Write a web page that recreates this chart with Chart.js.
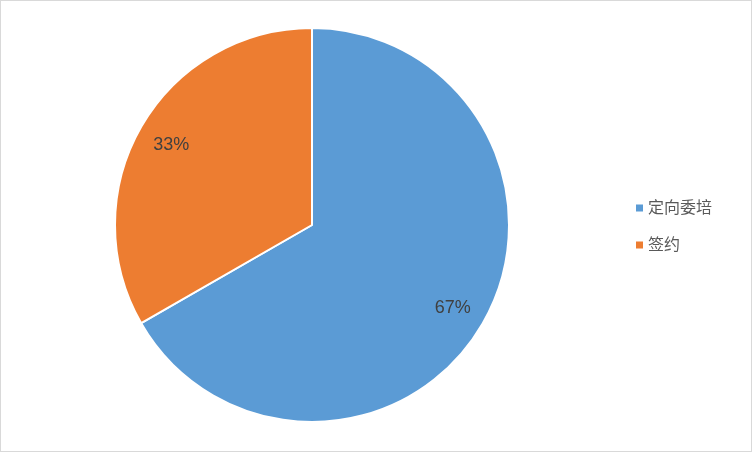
<!DOCTYPE html>
<html>
<head>
<meta charset="utf-8">
<script src="https://cdn.jsdelivr.net/npm/chart.js@4"></script>
<style>
  html, body { margin: 0; padding: 0; background: #fff; }
  canvas { display: block; }
</style>
</head>
<body>
<canvas id="pieChart" width="752" height="452"></canvas>
<script>
const categories = ["定向委培", "签约"];
const shares = [66.7, 33.3];
const sliceColors = ["#5B9BD5", "#ED7D31"];

const FONT = '"Liberation Sans", "Noto Sans CJK SC", sans-serif';

// percent labels inside the slices + frame + legend on the right
const pieExtras = {
  id: "pieExtras",
  afterDatasetsDraw(chart) {
    const ctx = chart.ctx;
    const meta = chart.getDatasetMeta(0);
    const total = shares.reduce((a, b) => a + b, 0);

    ctx.save();
    ctx.font = "18px " + FONT;
    ctx.fillStyle = "#404040";
    ctx.textAlign = "center";
    ctx.textBaseline = "middle";
    meta.data.forEach(function (arc, i) {
      const mid = (arc.startAngle + arc.endAngle) / 2;
      const r = arc.outerRadius * 0.825;
      const x = arc.x + Math.cos(mid) * r;
      const y = arc.y + Math.sin(mid) * r;
      ctx.fillText(Math.round(shares[i] / total * 100) + "%", x, y + 1.5);
    });

    // legend
    const area = chart.chartArea;
    const lx = area.right + 125;
    const ly = (area.top + area.bottom) / 2 - 17;
    ctx.font = "16px " + FONT;
    ctx.textAlign = "left";
    categories.forEach(function (name, i) {
      const y = ly + i * 37;
      ctx.fillStyle = sliceColors[i];
      ctx.fillRect(lx, y - 3.5, 7, 7);
      ctx.fillStyle = "#595959";
      ctx.fillText(name, lx + 12, y + 1);
    });

    // outer frame
    ctx.strokeStyle = "#D9D9D9";
    ctx.lineWidth = 1;
    ctx.strokeRect(0.5, 0.5, chart.width - 1, chart.height - 1);
    ctx.restore();
  }
};

new Chart(document.getElementById("pieChart"), {
  type: "pie",
  data: {
    labels: categories,
    datasets: [{
      data: shares,
      backgroundColor: sliceColors,
      borderColor: "#FFFFFF",
      borderWidth: 2
    }]
  },
  options: {
    responsive: false,
    animation: false,
    layout: {
      padding: { left: 113, right: 241, top: 27, bottom: 29 }
    },
    plugins: {
      legend: { display: false },
      tooltip: { enabled: false }
    }
  },
  plugins: [pieExtras]
});
</script>
</body>
</html>
